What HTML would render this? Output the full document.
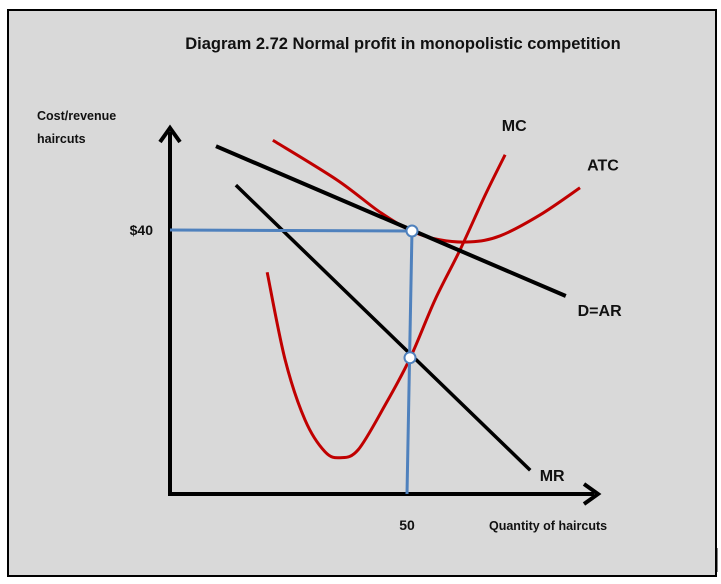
<!DOCTYPE html>
<html><head><meta charset="utf-8"><style>
body{margin:0;background:#fff;}
svg{display:block;font-family:"Liberation Sans",sans-serif;}
</style></head><body>
<svg id="chart" width="721" height="584" viewBox="0 0 721 584">
<rect x="8" y="10" width="708" height="566" fill="#d9d9d9" stroke="#000" stroke-width="2"/>
<line x1="717" y1="548" x2="717" y2="572" stroke="#000" stroke-width="1"/>
<text x="403" y="49" text-anchor="middle" font-size="16.5" font-weight="bold" fill="#111">Diagram 2.72 Normal profit in monopolistic competition</text>
<text x="37" y="120" font-size="12.5" font-weight="bold" fill="#111">Cost/revenue</text>
<text x="37" y="143" font-size="12.5" font-weight="bold" fill="#111">haircuts</text>
<text x="489" y="530" font-size="12.5" font-weight="bold" fill="#111">Quantity of haircuts</text>
<g id="plot"></g>
</svg>
<script>
const priceTicks=[40], priceLabels=["$40"];
const qtyTicks=[50], qtyLabels=["50"];
const demandQ=[9.7,83.5], demandP=[52.7,30];
const mrQ=[13.9,76], mrP=[46.8,3.6];
const atcQ=[21.7,35.2,44.3,51.1,57,63.3,69.6,78.1,86.5];
const atcP=[53.6,47.6,42.7,39.8,38.5,38.2,39.1,42.3,46.4];
const mcQ=[20.5,24.3,28.5,32.7,35.9,39.7,45.4,50.6,55.9,61.2,66.5,70.7];
const mcP=[33.6,20.3,11.2,6.4,5.5,6.7,13.5,20.5,29.4,37,45.3,51.4];
const eqQ=50, eqP=40, mcAtEq=20.5;
const labels=[["MC",70,55],["ATC",88,49],["D=AR",86,27],["MR",78,2]];

const X0=170,Y0=494,SX=4.74,SY=6.6;
const sx=q=>X0+q*SX, sy=p=>Y0-p*SY;
const NS="http://www.w3.org/2000/svg";
const g=document.getElementById('plot');
function mk(t,a){const e=document.createElementNS(NS,t);for(const k in a)e.setAttribute(k,a[k]);g.appendChild(e);return e;}
function smooth(Q,P){const pts=Q.map((q,i)=>[sx(q),sy(P[i])]);let d=`M${pts[0][0]},${pts[0][1]}`;
 for(let i=0;i<pts.length-1;i++){const p0=pts[Math.max(0,i-1)],p1=pts[i],p2=pts[i+1],p3=pts[Math.min(pts.length-1,i+2)];
 d+=` C${p1[0]+(p2[0]-p0[0])/6},${p1[1]+(p2[1]-p0[1])/6} ${p2[0]-(p3[0]-p1[0])/6},${p2[1]-(p3[1]-p1[1])/6} ${p2[0]},${p2[1]}`;}return d;}

// axes
let e;
e=mk('line',{x1:X0,y1:Y0+2,x2:X0,y2:132,stroke:'#000','stroke-width':4});


e=mk('path',{d:`M${X0-10},${142} L${X0},${128} L${X0+10},${142}`,fill:'none',stroke:'#000','stroke-width':4});


e=mk('line',{x1:X0-2,y1:Y0,x2:594,y2:Y0,stroke:'#000','stroke-width':4});


e=mk('path',{d:`M584,${Y0-10} L598,${Y0} L584,${Y0+10}`,fill:'none',stroke:'#000','stroke-width':4});



priceTicks.forEach((p,i)=>{e=mk('text',{x:153,y:sy(p)+5,'text-anchor':'end','font-size':14,'font-weight':'bold',fill:'#111'});e.textContent=priceLabels[i];

});
qtyTicks.forEach((q,i)=>{e=mk('text',{x:sx(q),y:530,'text-anchor':'middle','font-size':14,'font-weight':'bold',fill:'#111'});e.textContent=qtyLabels[i];

});

// curves
e=mk('path',{d:smooth(atcQ,atcP),fill:'none',stroke:'#c00000','stroke-width':3});


e=mk('path',{d:smooth(mcQ,mcP),fill:'none',stroke:'#c00000','stroke-width':3});


e=mk('line',{x1:sx(demandQ[0]),y1:sy(demandP[0]),x2:sx(demandQ[1]),y2:sy(demandP[1]),stroke:'#000','stroke-width':4});


e=mk('line',{x1:sx(mrQ[0]),y1:sy(mrP[0]),x2:sx(mrQ[1]),y2:sy(mrP[1]),stroke:'#000','stroke-width':3.5});


// guides
e=mk('line',{x1:X0,y1:sy(eqP),x2:sx(eqQ)+5,y2:sy(eqP)+1,stroke:'#4f81bd','stroke-width':3});


e=mk('line',{x1:sx(eqQ)+5,y1:sy(eqP),x2:sx(eqQ),y2:Y0,stroke:'#4f81bd','stroke-width':3});


e=mk('circle',{cx:sx(eqQ)+5,cy:sy(eqP)+1,r:5.5,fill:'#fff',stroke:'#4f81bd','stroke-width':2});


e=mk('circle',{cx:sx(eqQ)+3,cy:sy(mcAtEq)-1,r:5.5,fill:'#fff',stroke:'#4f81bd','stroke-width':2});


labels.forEach(l=>{e=mk('text',{x:sx(l[1]),y:sy(l[2]),'font-size':16,'font-weight':'bold',fill:'#111'});e.textContent=l[0];

});
</script>
</body></html>
